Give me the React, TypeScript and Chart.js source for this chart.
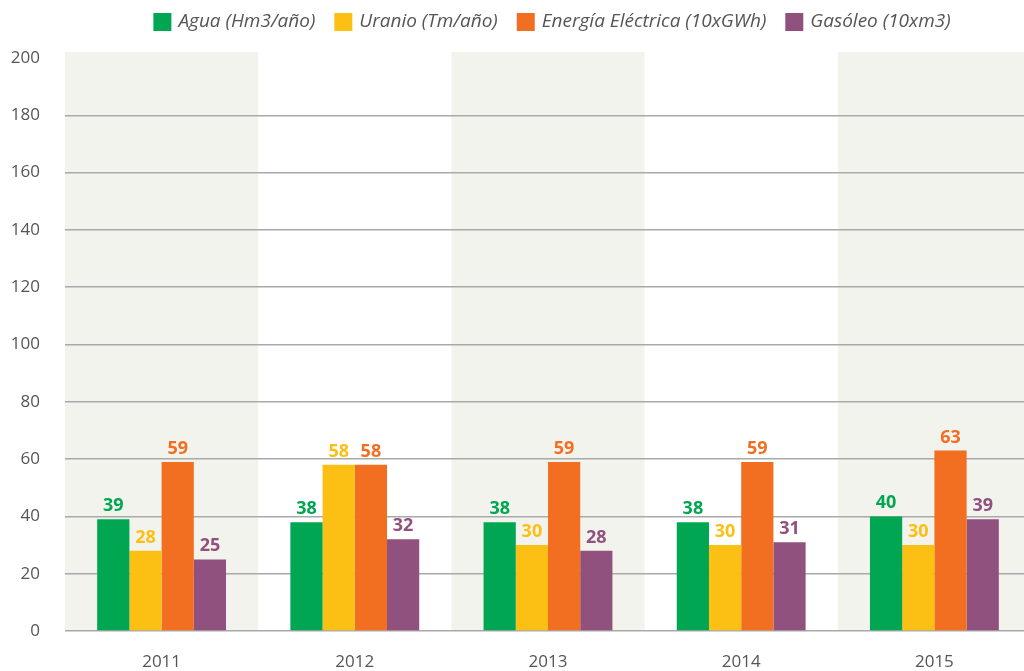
import React, { useEffect, useRef } from "react";
import { Chart, registerables } from "chart.js";

Chart.register(...registerables);

const years = ["2011", "2012", "2013", "2014", "2015"];
const agua = [39, 38, 38, 38, 40];
const uranio = [28, 58, 30, 30, 30];
const energia = [59, 58, 59, 59, 63];
const gasoleo = [25, 32, 28, 31, 39];
const seriesNames = [
  "Agua (Hm3/año)",
  "Uranio (Tm/año)",
  "Energía Eléctrica (10xGWh)",
  "Gasóleo (10xm3)",
];
const seriesColors = ["#00a651", "#fcbf14", "#f26f22", "#91517f"];
const yMin = 0;
const yMax = 200;
const yStep = 20;

const FONT = "'Open Sans', 'Noto Sans', sans-serif";

const bandPlugin = {
  id: "bands",
  beforeDraw(chart: any) {
    const { ctx, chartArea, scales } = chart;
    const x = scales.x;
    const n = x.ticks.length;
    const w = (chartArea.right - chartArea.left) / n;
    ctx.save();
    ctx.fillStyle = "#f3f3ee";
    for (let i = 0; i < n; i += 2) {
      const c = x.getPixelForValue(i);
      ctx.fillRect(c - w / 2, chartArea.top - 6, w, chartArea.bottom - chartArea.top + 6);
    }
    ctx.restore();
  },
};

const labelPlugin = {
  id: "valueLabels",
  afterDatasetsDraw(chart: any) {
    const { ctx } = chart;
    ctx.save();
    ctx.font = `bold 18px ${FONT}`;
    ctx.textAlign = "center";
    ctx.textBaseline = "alphabetic";
    chart.data.datasets.forEach((ds: any, di: number) => {
      const meta = chart.getDatasetMeta(di);
      ctx.fillStyle = ds.backgroundColor;
      meta.data.forEach((el: any, i: number) => {
        ctx.fillText(String(ds.data[i]), el.x, el.y - 8);
      });
    });
    ctx.restore();
  },
};

const legendPlugin = {
  id: "customLegend",
  afterDraw(chart: any) {
    const { ctx } = chart;
    ctx.save();
    ctx.font = `italic 19px ${FONT}`;
    const box = 18;
    const gapText = 7;
    const gapItem = 19;
    const widths = seriesNames.map((s) => ctx.measureText(s).width);
    const total =
      widths.reduce((a, b) => a + b, 0) +
      seriesNames.length * (box + gapText) +
      (seriesNames.length - 1) * gapItem;
    let x = 552 - total / 2;
    const cy = 22;
    ctx.textBaseline = "middle";
    ctx.textAlign = "left";
    seriesNames.forEach((name, i) => {
      ctx.fillStyle = seriesColors[i];
      ctx.fillRect(x, cy - box / 2, box, box);
      x += box + gapText;
      ctx.fillStyle = "#555555";
      ctx.fillText(name, x, cy);
      x += widths[i] + gapItem;
    });
    ctx.restore();
  },
};

export default function App() {
  const ref = useRef<HTMLCanvasElement>(null);
  useEffect(() => {
    if (!ref.current) return;
    const seriesData = [agua, uranio, energia, gasoleo];
    const chart = new Chart(ref.current, {
      type: "bar",
      data: {
        labels: years,
        datasets: seriesData.map((d, i) => ({
          label: seriesNames[i],
          data: d,
          backgroundColor: seriesColors[i],
          borderWidth: 0,
          categoryPercentage: 0.667,
          barPercentage: 1.0,
        })),
      },
      options: {
        responsive: false,
        animation: false,
        layout: { padding: { top: 58, left: 0, right: 0, bottom: 0 } },
        plugins: {
          legend: { display: false },
          tooltip: { enabled: false },
        },
        scales: {
          x: {
            grid: { display: false },
            border: { display: false },
            ticks: {
              color: "#555555",
              font: { family: FONT, size: 17 },
              padding: 13,
            },
            afterFit: (s: any) => {
              s.height = 40;
            },
          },
          y: {
            min: yMin,
            max: yMax,
            border: { display: false },
            grid: {
              color: (c: any) => (c.tick && c.tick.value === yMax ? "rgba(0,0,0,0)" : "#a9a9a9"),
              lineWidth: 1.5,
              drawTicks: false,
            },
            ticks: {
              stepSize: yStep,
              color: "#555555",
              font: { family: FONT, size: 17 },
              padding: 25,
            },
            afterFit: (s: any) => {
              s.width = 65;
            },
          },
        },
      },
      plugins: [bandPlugin, labelPlugin, legendPlugin],
    });
    return () => chart.destroy();
  }, []);
  return (
    <div
      style={{
        position: "absolute",
        left: 0,
        top: 0,
        width: 1024,
        height: 671,
        overflow: "hidden",
        background: "#ffffff",
      }}
    >
      <canvas ref={ref} width={1031} height={671} style={{ display: "block" }} />
    </div>
  );
}
